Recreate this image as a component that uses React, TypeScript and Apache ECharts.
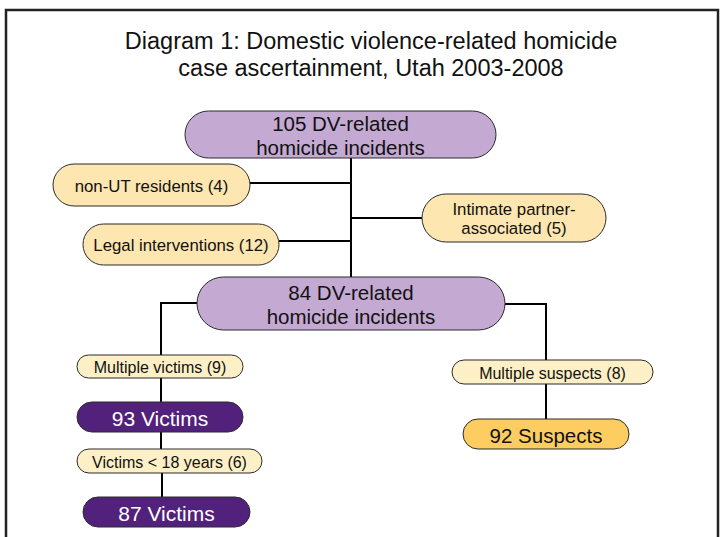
import React, { useEffect, useRef } from "react";
import * as echarts from "echarts";

// ---- Data (texts and counts) ----
const titleLines = [
  "Diagram 1: Domestic violence-related homicide",
  "case ascertainment, Utah 2003-2008",
];
const incidentCounts = [105, 84];
const incidentLabel = "DV-related\nhomicide incidents";
const exclusionLabels = ["non-UT residents", "Legal interventions", "Intimate partner-\nassociated"];
const exclusionCounts = [4, 12, 5];
const victimStepLabels = ["Multiple victims", "Victims < 18 years"];
const victimStepCounts = [9, 6];
const victimTotals = [93, 87];
const suspectStepLabels = ["Multiple suspects"];
const suspectStepCounts = [8];
const suspectTotals = [92];

// ---- Layout (pixel boxes: x1, x2, y1, y2) ----
type Box = [number, number, number, number];
const incidentBoxes: Box[] = [
  [185, 496, 111, 158],
  [197, 505, 277, 330],
];
const exclusionBoxes: Box[] = [
  [53, 250, 164, 206],
  [83, 279, 224, 265],
  [422, 606, 194, 242],
];
const victimStepBoxes: Box[] = [
  [77, 243, 355, 378],
  [77, 262, 449, 473],
];
const victimBoxes: Box[] = [
  [77, 243, 402, 432],
  [83, 250, 497, 527],
];
const suspectStepBoxes: Box[] = [[452, 653, 360, 384]];
const suspectBoxes: Box[] = [[463, 629, 419, 449]];

const connectors: number[][][] = [
  [[351, 158], [351, 277]],
  [[250, 183], [351, 183]],
  [[279, 241], [351, 241]],
  [[351, 218], [422, 218]],
  [[197, 303], [161, 303], [161, 355]],
  [[161, 378], [161, 402]],
  [[161, 432], [161, 449]],
  [[162, 473], [162, 497]],
  [[505, 304], [546, 304], [546, 360]],
  [[546, 384], [546, 419]],
];

const FONT = "'Liberation Sans', Arial, Helvetica, sans-serif";

function pill(b: Box, fill: string, text: string, fontSize: number, color: string, lineHeight: number) {
  const [x1, x2, y1, y2] = b;
  const h = y2 - y1;
  return [
    {
      type: "rect",
      shape: { x: x1, y: y1, width: x2 - x1, height: h, r: h / 2 },
      style: { fill, stroke: "#2b2b2b", lineWidth: 1 },
      z: 10,
    },
    {
      type: "text",
      x: (x1 + x2) / 2,
      y: (y1 + y2) / 2 + 1,
      style: {
        text,
        fill: color,
        fontSize,
        fontFamily: FONT,
        align: "center",
        verticalAlign: "middle",
        lineHeight,
      },
      z: 11,
    },
  ];
}

export default function App() {
  const ref = useRef<HTMLDivElement>(null);
  useEffect(() => {
    if (!ref.current) return;
    const chart = echarts.init(ref.current, undefined, { renderer: "svg" });
    const elements: any[] = [];

    elements.push({
      type: "rect",
      shape: { x: 6, y: 10, width: 712, height: 545 },
      style: { fill: "none", stroke: "#222", lineWidth: 2.5 },
      z: 1,
    });
    elements.push({
      type: "text",
      x: 371,
      y: 54,
      style: {
        text: titleLines.join("\n"),
        fill: "#111",
        fontSize: 23.5,
        fontFamily: FONT,
        align: "center",
        verticalAlign: "middle",
        lineHeight: 27,
      },
      z: 5,
    });

    connectors.forEach((pts) => {
      elements.push({
        type: "polyline",
        shape: { points: pts },
        style: { stroke: "#000", lineWidth: 2, fill: "none" },
        z: 5,
      });
    });

    incidentBoxes.forEach((b, i) => {
      elements.push(...pill(b, "#c4a9d2", `${incidentCounts[i]} ${incidentLabel}`, 20.5, "#111", 24));
    });
    exclusionBoxes.forEach((b, i) => {
      elements.push(...pill(b, "#fde6b0", `${exclusionLabels[i]} (${exclusionCounts[i]})`, 16.8, "#111", 19));
    });
    victimStepBoxes.forEach((b, i) => {
      elements.push(...pill(b, "#fef0c6", `${victimStepLabels[i]} (${victimStepCounts[i]})`, 16, "#111", 18));
    });
    victimBoxes.forEach((b, i) => {
      elements.push(...pill(b, "#52217b", `${victimTotals[i]} Victims`, 21, "#fff", 22));
    });
    suspectStepBoxes.forEach((b, i) => {
      elements.push(...pill(b, "#fef0c6", `${suspectStepLabels[i]} (${suspectStepCounts[i]})`, 16, "#111", 18));
    });
    suspectBoxes.forEach((b, i) => {
      elements.push(...pill(b, "#fdcd62", `${suspectTotals[i]} Suspects`, 20.5, "#111", 22));
    });

    chart.setOption({
      animation: false,
      backgroundColor: "#fff",
      graphic: { elements },
    });
    return () => chart.dispose();
  }, []);
  return (
    <div
      ref={ref}
      style={{ position: "fixed", left: 0, top: 0, width: 721, height: 537 }}
    />
  );
}
